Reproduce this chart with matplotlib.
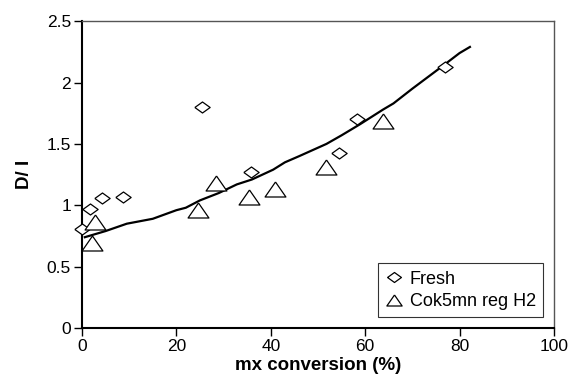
import matplotlib
matplotlib.use('Agg')
import matplotlib.pyplot as plt

plt.rcParams['font.family'] = ['Liberation Sans', 'DejaVu Sans']

fresh_x = [0.1, 1.7, 4.2, 8.7, 25.4, 35.9, 54.5, 58.3, 77.0]
fresh_y = [0.81, 0.97, 1.06, 1.07, 1.80, 1.27, 1.43, 1.70, 2.13]

cok_x = [2.2, 2.8, 24.6, 28.5, 35.4, 40.9, 51.6, 63.8]
cok_y = [0.69, 0.86, 0.96, 1.18, 1.07, 1.13, 1.31, 1.69]

fit_x = [0.6, 5, 9.5, 15, 20, 22, 25, 29, 32.8, 36, 40.5, 43, 46, 51.8, 55, 58.9, 63.8, 66, 70, 76.6, 80, 82.2]
fit_y = [0.74, 0.79, 0.85, 0.89, 0.96, 0.98, 1.04, 1.10, 1.17, 1.21, 1.29, 1.35, 1.40, 1.50, 1.57, 1.66, 1.78, 1.83, 1.95, 2.14, 2.24, 2.29]

diamond = [(-1, 0), (0, 0.72), (1, 0), (0, -0.72), (-1, 0)]
triangle = [(0, 0.72), (-1, -0.72), (1, -0.72), (0, 0.72)]

fig = plt.figure(figsize=(5.71, 3.85), dpi=100)
ax = fig.add_axes([0.1436, 0.148, 0.8265, 0.797])

ax.plot(fit_x, fit_y, color='black', lw=1.6, zorder=2)
ax.plot(fresh_x, fresh_y, ls='none', marker=diamond, ms=11, mfc='white',
        mec='black', mew=0.9, label='Fresh', zorder=3, clip_on=False)
ax.plot(cok_x, cok_y, ls='none', marker=triangle, ms=15, mfc='white',
        mec='black', mew=0.9, label='Cok5mn reg H2', zorder=3, clip_on=False)

ax.set_xlim(0, 100)
ax.set_ylim(0, 2.5)
ax.set_xticks([0, 20, 40, 60, 80, 100])
ax.set_yticks([0, 0.5, 1, 1.5, 2, 2.5])
ax.set_yticklabels(['0', '0.5', '1', '1.5', '2', '2.5'])
ax.tick_params(direction='out', length=6, width=1, labelsize=12.5, pad=2)

for s in ['left', 'bottom']:
    ax.spines[s].set_linewidth(1.5)
    ax.spines[s].set_color('black')
for s in ['top', 'right']:
    ax.spines[s].set_linewidth(1.0)
    ax.spines[s].set_color('#555555')

ax.set_xlabel('mx conversion (%)', fontsize=13.5, fontweight='bold', labelpad=2)
ax.set_ylabel('D/ I', fontsize=13.5, fontweight='bold', labelpad=10)

leg = ax.legend(loc='lower right', fontsize=13, frameon=True, fancybox=False,
                edgecolor='black', handlelength=1.0, handletextpad=0.35,
                borderpad=0.4, labelspacing=0.3, borderaxespad=0.6)
leg.get_frame().set_linewidth(0.8)
leg.legend_handles[0].set_markersize(10)
leg.legend_handles[1].set_markersize(11)

fig.savefig('out.png', dpi=100)
